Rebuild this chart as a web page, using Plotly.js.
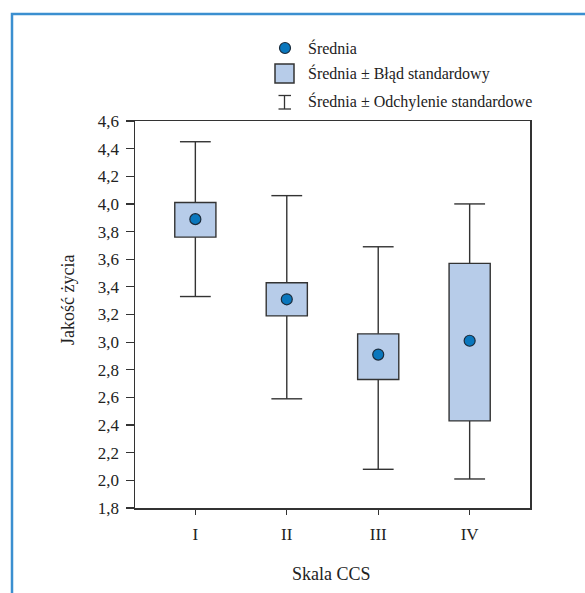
<!DOCTYPE html>
<html><head><meta charset="utf-8">
<script src="https://cdn.plot.ly/plotly-3.0.1.min.js"></script>
<style>html,body{margin:0;padding:0;background:#fff}</style>
</head><body><div id="chart" style="width:585px;height:593px"></div>
<script>
const categories = ['I', 'II', 'III', 'IV'];
const means  = [3.89, 3.31, 2.91, 3.01];
const seLow  = [3.76, 3.19, 2.73, 2.43];
const seHigh = [4.01, 3.43, 3.06, 3.57];
const sdLow  = [3.33, 2.59, 2.08, 2.01];
const sdHigh = [4.45, 4.06, 3.69, 4.00];
const legendLabels = ['Średnia', 'Średnia ± Błąd standardowy', 'Średnia ± Odchylenie standardowe'];
const xTitle = 'Skala CCS';
const yTitle = 'Jakość życia';

const DARK = '#333333';
const FILL = '#b7cce9';
const DOT = '#0a77bd';
const FRAME = '#3b8fd0';

// plot area in pixels (for legend/frame decoration placement)
const L = 135, T = 121, W = 395, H = 387;
const px = x => (x - L) / W;
const py = y => (T + H - y) / H;

// standard-error boxes
const seBoxes = {
  type: 'bar',
  x: categories,
  base: seLow,
  y: seHigh.map((v, i) => v - seLow[i]),
  width: 0.45,
  marker: {color: FILL, line: {color: DARK, width: 1.4}},
  hoverinfo: 'skip'
};

// whisker stems (mean ± SD), drawn outside the SE boxes
const zeros = categories.map(() => 0);
const stems = {
  type: 'scatter',
  mode: 'markers',
  x: categories.concat(categories),
  y: seHigh.concat(seLow),
  marker: {size: 1, opacity: 0},
  error_y: {
    type: 'data', symmetric: false,
    array: sdHigh.map((v, i) => v - seHigh[i]).concat(zeros),
    arrayminus: zeros.concat(seLow.map((v, i) => v - sdLow[i])),
    width: 0, thickness: 1.4, color: DARK
  },
  hoverinfo: 'skip'
};

// whisker caps
const caps = {
  type: 'scatter',
  mode: 'markers',
  x: categories.concat(categories),
  y: sdHigh.concat(sdLow),
  marker: {symbol: 'line-ew', size: 22, line: {color: DARK, width: 1.4}},
  hoverinfo: 'skip'
};

const dots = {
  type: 'scatter',
  mode: 'markers',
  x: categories,
  y: means,
  marker: {size: 11, color: DOT, line: {color: '#1b2b3b', width: 1.2}},
  hoverinfo: 'skip'
};

const shapes = [
  // blue frame (top and left)
  {type: 'path', xref: 'paper', yref: 'paper',
   path: `M ${px(12)} ${py(610)} L ${px(12)} ${py(14)} L ${px(610)} ${py(14)}`,
   line: {color: FRAME, width: 2.5}},
  // legend: dot
  {type: 'circle', xref: 'paper', yref: 'paper',
   x0: px(279.5), x1: px(290.5), y0: py(53.5), y1: py(42.5),
   fillcolor: DOT, line: {color: '#1b2b3b', width: 1.2}},
  // legend: square
  {type: 'rect', xref: 'paper', yref: 'paper',
   x0: px(275), x1: px(294), y0: py(83), y1: py(64),
   fillcolor: FILL, line: {color: DARK, width: 1.5}},
  // legend: I-beam
  {type: 'line', xref: 'paper', yref: 'paper',
   x0: px(284.5), x1: px(284.5), y0: py(109), y1: py(95.5),
   line: {color: DARK, width: 1.3}},
  {type: 'line', xref: 'paper', yref: 'paper',
   x0: px(278.5), x1: px(291), y0: py(95.5), y1: py(95.5),
   line: {color: DARK, width: 1.3}},
  {type: 'line', xref: 'paper', yref: 'paper',
   x0: px(278.5), x1: px(291), y0: py(109), y1: py(109),
   line: {color: DARK, width: 1.3}}
];

const legendY = [48, 73.5, 101.5];
const annotations = legendLabels.map((t, i) => ({
  text: t, xref: 'paper', yref: 'paper', x: px(306), y: py(legendY[i]),
  xanchor: 'left', yanchor: 'middle', showarrow: false,
  font: {size: 16, color: '#222'}
}));
annotations.push({
  text: yTitle, xref: 'paper', yref: 'paper', x: px(68), y: py(300),
  textangle: -90, xanchor: 'center', yanchor: 'middle', showarrow: false,
  font: {size: 18, color: '#222'}
});
annotations.push({
  text: xTitle, xref: 'paper', yref: 'paper', x: px(331), y: py(573.5),
  xanchor: 'center', yanchor: 'middle', showarrow: false,
  font: {size: 18, color: '#222'}
});

const layout = {
  width: 585, height: 593,
  margin: {l: L, r: 585 - L - W, t: T, b: 593 - T - H},
  paper_bgcolor: '#fff', plot_bgcolor: '#fff',
  showlegend: false,
  barmode: 'overlay',
  separators: ', ',
  font: {family: '"Liberation Serif", "Times New Roman", serif', size: 17, color: '#222'},
  xaxis: {
    type: 'category', categoryarray: categories, range: [-0.66, 3.66],
    showline: true, linecolor: DARK, linewidth: 1.5, mirror: true,
    ticks: 'outside', ticklen: 5, tickcolor: DARK, tickwidth: 1.2,
    ticklabelstandoff: 5,
    showgrid: false, zeroline: false,
    tickfont: {size: 17}
  },
  yaxis: {
    range: [1.8, 4.6], tick0: 1.8, dtick: 0.2, tickformat: '.1f',
    showline: true, linecolor: DARK, linewidth: 1.5, mirror: true,
    ticks: 'outside', ticklen: 8, tickcolor: DARK, tickwidth: 1.2,
    ticklabelstandoff: 3,
    showgrid: false, zeroline: false,
    tickfont: {size: 17}
  },
  shapes: shapes,
  annotations: annotations
};

Plotly.newPlot('chart', [seBoxes, stems, caps, dots], layout, {displayModeBar: false, staticPlot: true});
</script>
</body></html>
